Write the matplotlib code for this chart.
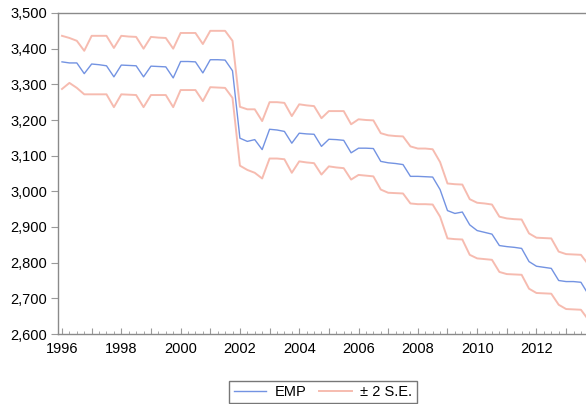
import matplotlib
matplotlib.use("Agg")
import matplotlib.pyplot as plt
import numpy as np
from matplotlib.ticker import FuncFormatter, MultipleLocator, FixedLocator

plt.rcParams['font.family'] = ['Liberation Sans', 'DejaVu Sans']

start_year = 1996
years = list(range(1996, 2014))

emp = [
    3363, 3360, 3360, 3330,
    3357, 3355, 3352, 3321,
    3354, 3353, 3352, 3321,
    3351, 3350, 3349, 3318,
    3364, 3364, 3363, 3332,
    3369, 3369, 3368, 3338,
    3149, 3140, 3145, 3117,
    3174, 3172, 3168, 3135,
    3163, 3161, 3160, 3126,
    3146, 3145, 3143, 3108,
    3121, 3121, 3120, 3084,
    3080, 3078, 3075, 3042,
    3042, 3041, 3040, 3005,
    2946, 2938, 2942, 2906,
    2890, 2885, 2880, 2848,
    2845, 2843, 2840, 2803,
    2790, 2787, 2784, 2750,
    2747, 2747, 2745, 2711,
]

upper = [
    3436, 3430, 3422, 3394,
    3436, 3436, 3436, 3402,
    3436, 3434, 3433, 3400,
    3433, 3431, 3430, 3400,
    3444, 3444, 3444, 3413,
    3450, 3450, 3450, 3422,
    3237, 3230, 3230, 3197,
    3250, 3250, 3248, 3211,
    3244, 3241, 3239, 3205,
    3225, 3225, 3225, 3188,
    3202, 3200, 3199, 3163,
    3157, 3155, 3154, 3126,
    3120, 3120, 3118, 3082,
    3022, 3020, 3019, 2978,
    2968, 2966, 2963, 2929,
    2924, 2922, 2921, 2882,
    2870, 2869, 2868, 2831,
    2824, 2823, 2822, 2795,
]

lower = [
    3287, 3304, 3290, 3272,
    3272, 3272, 3272, 3236,
    3272, 3271, 3270, 3236,
    3270, 3270, 3270, 3236,
    3284, 3284, 3284, 3253,
    3292, 3291, 3290, 3262,
    3072, 3060, 3052, 3036,
    3092, 3092, 3090, 3052,
    3084, 3081, 3079, 3047,
    3070, 3067, 3065, 3033,
    3046, 3044, 3042, 3005,
    2996, 2995, 2994, 2966,
    2964, 2964, 2963, 2929,
    2868, 2866, 2865, 2822,
    2812, 2810, 2808, 2774,
    2768, 2767, 2766, 2727,
    2715, 2714, 2713, 2682,
    2670, 2669, 2668, 2640,
]

t = start_year + np.arange(len(emp)) / 4.0

fig = plt.figure(figsize=(5.86, 4.04), dpi=100)
ax = fig.add_axes([58/586, 1-334/404, 1.005 - 58/586, (334-13)/404])

emp_color = '#7393e2'
se_color = '#f5b0a2'

ax.plot(t, upper, color=se_color, lw=1.4, alpha=0.85, label='± 2 S.E.')
ax.plot(t, lower, color=se_color, lw=1.4, alpha=0.85)
ax.plot(t, emp, color=emp_color, lw=1.0, label='EMP')

ax.set_xlim(1995.865, 2013.77)
ax.set_ylim(2600, 3500)
ax.yaxis.set_major_locator(MultipleLocator(100))
ax.yaxis.set_major_formatter(FuncFormatter(lambda v, p: f"{int(v):,}"))

ax.xaxis.set_major_locator(FixedLocator(years))
ax.xaxis.set_minor_locator(MultipleLocator(0.25))
ax.xaxis.set_major_formatter(FuncFormatter(lambda v, p: str(int(round(v))) if int(round(v)) % 2 == 0 else ''))

for s in ['left', 'bottom', 'top', 'right']:
    ax.spines[s].set_color('#8a8a8a')
    ax.spines[s].set_linewidth(1.0)

ax.tick_params(axis='y', direction='out', length=5, color='#9a9a9a', labelsize=10.5, pad=3)
ax.tick_params(axis='x', which='major', direction='in', length=4, color='#9a9a9a', labelsize=10.5, pad=6)
ax.tick_params(axis='x', which='minor', direction='in', length=2, color='#9a9a9a')

handles, labels = ax.get_legend_handles_labels()
leg = fig.legend([handles[1], handles[0]], [labels[1], labels[0]],
                 loc='center', bbox_to_anchor=(323/586, 1-392/404), ncol=2,
                 fontsize=10.5, frameon=True, fancybox=False, handlelength=2.2,
                 handletextpad=0.6, columnspacing=0.9, borderpad=0.3)
leg.get_frame().set_edgecolor('#555555')
leg.get_frame().set_linewidth(1.0)

fig.savefig('out.png', dpi=100)
